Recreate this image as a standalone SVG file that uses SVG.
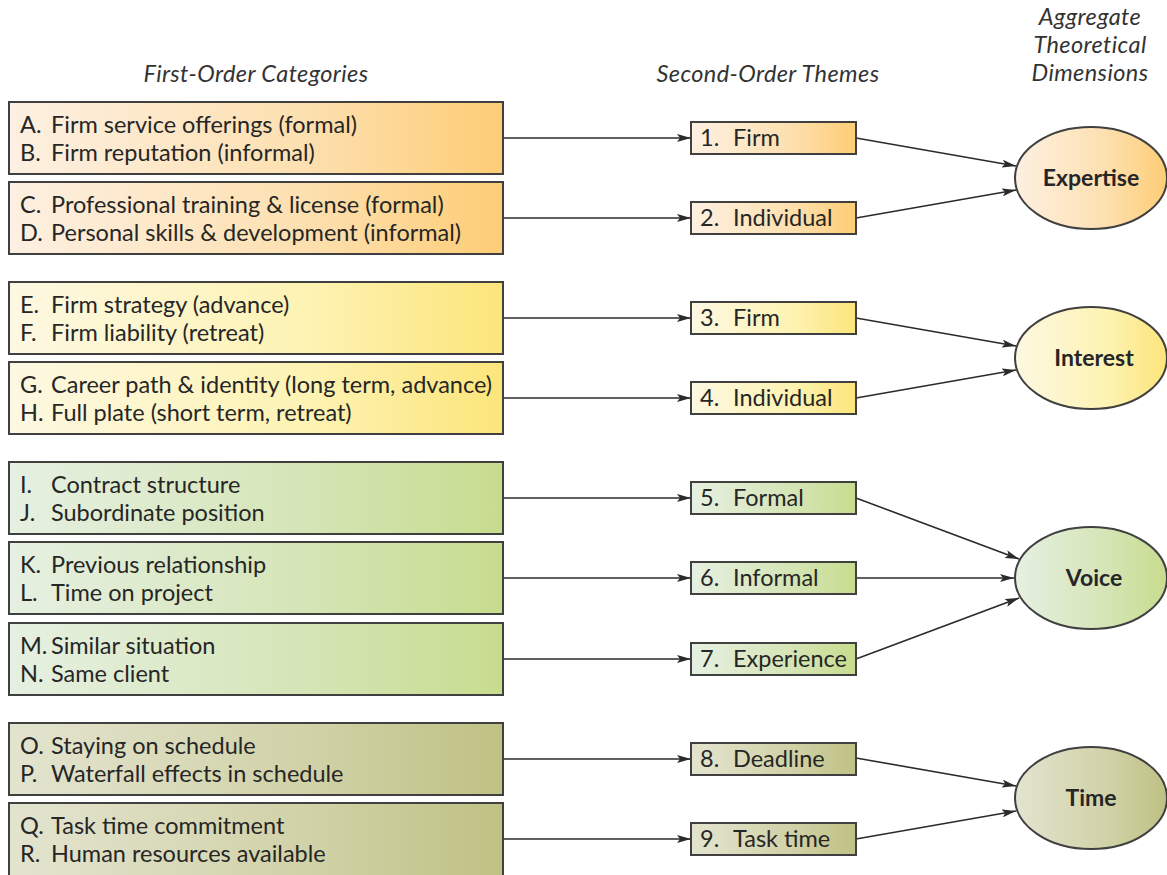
<svg xmlns="http://www.w3.org/2000/svg" width="1167" height="875" viewBox="0 0 1167 875">
  <defs>
    <linearGradient id="gOrange" x1="0" y1="0" x2="1" y2="0">
      <stop offset="0" stop-color="#fdf0e2"/>
      <stop offset="0.6" stop-color="#fde0b0"/>
      <stop offset="1" stop-color="#fdcd76"/>
    </linearGradient>
    <linearGradient id="gYellow" x1="0" y1="0" x2="1" y2="0">
      <stop offset="0" stop-color="#fdf8e2"/>
      <stop offset="0.6" stop-color="#fdf3b4"/>
      <stop offset="1" stop-color="#fce57a"/>
    </linearGradient>
    <linearGradient id="gGreen" x1="0" y1="0" x2="1" y2="0">
      <stop offset="0" stop-color="#e6f0e2"/>
      <stop offset="0.6" stop-color="#d5e5b6"/>
      <stop offset="1" stop-color="#c8dc8e"/>
    </linearGradient>
    <linearGradient id="gOlive" x1="0" y1="0" x2="1" y2="0">
      <stop offset="0" stop-color="#e3e4cf"/>
      <stop offset="0.6" stop-color="#d1d2a8"/>
      <stop offset="1" stop-color="#bfc184"/>
    </linearGradient>
    <marker id="arrow" viewBox="0 0 14 8" refX="14" refY="4" markerWidth="14" markerHeight="8" markerUnits="userSpaceOnUse" orient="auto">
      <path d="M0,0 L14,4 L0,8 L3,4 Z" fill="#2b2b2b"/>
    </marker>
    <style>
      .box { stroke: #404040; stroke-width: 2; }
      .txt { font-family: Lato, "Open Sans", sans-serif; font-size: 23.5px; fill: #262626; }
      .head { font-family: Lato, "Open Sans", sans-serif; font-size: 23.5px; font-style: italic; fill: #333; text-anchor: middle; letter-spacing: 0.4px; }
      .dim { font-family: Lato, "Open Sans", sans-serif; font-size: 23px; font-weight: bold; fill: #262626; text-anchor: middle; }
      .link { stroke: #2b2b2b; stroke-width: 1.6; fill: none; marker-end: url(#arrow); }
      .o { fill: url(#gOrange); }
      .y { fill: url(#gYellow); }
      .g { fill: url(#gGreen); }
      .v { fill: url(#gOlive); }
    </style>
  </defs>

  <rect width="1167" height="875" fill="#ffffff"/>

  <!-- column headings -->
  <g id="headings">
    <text class="head" x="256" y="82">First-Order Categories</text>
    <text class="head" x="768" y="82">Second-Order Themes</text>
    <text class="head" x="1090" y="25">Aggregate</text>
    <text class="head" x="1090" y="53">Theoretical</text>
    <text class="head" x="1090" y="81">Dimensions</text>
  </g>

  <!-- connectors -->
  <g id="connectors">
    <line class="link" x1="503" y1="138" x2="691" y2="138"/>
    <line class="link" x1="503" y1="218" x2="691" y2="218"/>
    <line class="link" x1="503" y1="318" x2="691" y2="318"/>
    <line class="link" x1="503" y1="398" x2="691" y2="398"/>
    <line class="link" x1="503" y1="498" x2="691" y2="498"/>
    <line class="link" x1="503" y1="578" x2="691" y2="578"/>
    <line class="link" x1="503" y1="659" x2="691" y2="659"/>
    <line class="link" x1="503" y1="759" x2="691" y2="759"/>
    <line class="link" x1="503" y1="839" x2="691" y2="839"/>

    <line class="link" x1="856" y1="138" x2="1016" y2="166"/>
    <line class="link" x1="856" y1="218" x2="1016" y2="190"/>
    <line class="link" x1="856" y1="318" x2="1016" y2="346"/>
    <line class="link" x1="856" y1="398" x2="1016" y2="370"/>
    <line class="link" x1="856" y1="498" x2="1019" y2="559"/>
    <line class="link" x1="856" y1="578" x2="1014" y2="578"/>
    <line class="link" x1="856" y1="659" x2="1019" y2="598"/>
    <line class="link" x1="856" y1="758" x2="1016" y2="786"/>
    <line class="link" x1="856" y1="839" x2="1016" y2="811"/>
  </g>

  <!-- first-order categories -->
  <g id="cat-AB">
    <rect class="box o" x="9" y="102" width="494" height="72"/>
    <text class="txt" y="133"><tspan x="20">A.</tspan><tspan x="51">Firm service offerings (formal)</tspan></text>
    <text class="txt" y="161"><tspan x="20">B.</tspan><tspan x="51">Firm reputation (informal)</tspan></text>
  </g>
  <g id="cat-CD">
    <rect class="box o" x="9" y="182" width="494" height="72"/>
    <text class="txt" y="213"><tspan x="20">C.</tspan><tspan x="51">Professional training &amp; license (formal)</tspan></text>
    <text class="txt" y="241"><tspan x="20">D.</tspan><tspan x="51">Personal skills &amp; development (informal)</tspan></text>
  </g>
  <g id="cat-EF">
    <rect class="box y" x="9" y="282" width="494" height="72"/>
    <text class="txt" y="313"><tspan x="20">E.</tspan><tspan x="51">Firm strategy (advance)</tspan></text>
    <text class="txt" y="341"><tspan x="20">F.</tspan><tspan x="51">Firm liability (retreat)</tspan></text>
  </g>
  <g id="cat-GH">
    <rect class="box y" x="9" y="362" width="494" height="72"/>
    <text class="txt" y="393"><tspan x="20">G.</tspan><tspan x="51">Career path &amp; identity (long term, advance)</tspan></text>
    <text class="txt" y="421"><tspan x="20">H.</tspan><tspan x="51">Full plate (short term, retreat)</tspan></text>
  </g>
  <g id="cat-IJ">
    <rect class="box g" x="9" y="462" width="494" height="72"/>
    <text class="txt" y="493"><tspan x="20">I.</tspan><tspan x="51">Contract structure</tspan></text>
    <text class="txt" y="521"><tspan x="20">J.</tspan><tspan x="51">Subordinate position</tspan></text>
  </g>
  <g id="cat-KL">
    <rect class="box g" x="9" y="542" width="494" height="72"/>
    <text class="txt" y="573"><tspan x="20">K.</tspan><tspan x="51">Previous relationship</tspan></text>
    <text class="txt" y="601"><tspan x="20">L.</tspan><tspan x="51">Time on project</tspan></text>
  </g>
  <g id="cat-MN">
    <rect class="box g" x="9" y="623" width="494" height="72"/>
    <text class="txt" y="654"><tspan x="20">M.</tspan><tspan x="51">Similar situation</tspan></text>
    <text class="txt" y="682"><tspan x="20">N.</tspan><tspan x="51">Same client</tspan></text>
  </g>
  <g id="cat-OP">
    <rect class="box v" x="9" y="723" width="494" height="72"/>
    <text class="txt" y="754"><tspan x="20">O.</tspan><tspan x="51">Staying on schedule</tspan></text>
    <text class="txt" y="782"><tspan x="20">P.</tspan><tspan x="51">Waterfall effects in schedule</tspan></text>
  </g>
  <g id="cat-QR">
    <rect class="box v" x="9" y="803" width="494" height="80"/>
    <text class="txt" y="834"><tspan x="20">Q.</tspan><tspan x="51">Task time commitment</tspan></text>
    <text class="txt" y="862"><tspan x="20">R.</tspan><tspan x="51">Human resources available</tspan></text>
  </g>

  <!-- second-order themes -->
  <g id="theme-1">
    <rect class="box o" x="691" y="122" width="165" height="32"/>
    <text class="txt" y="146"><tspan x="700">1.</tspan><tspan x="733">Firm</tspan></text>
  </g>
  <g id="theme-2">
    <rect class="box o" x="691" y="202" width="165" height="32"/>
    <text class="txt" y="226"><tspan x="700">2.</tspan><tspan x="733">Individual</tspan></text>
  </g>
  <g id="theme-3">
    <rect class="box y" x="691" y="302" width="165" height="32"/>
    <text class="txt" y="326"><tspan x="700">3.</tspan><tspan x="733">Firm</tspan></text>
  </g>
  <g id="theme-4">
    <rect class="box y" x="691" y="382" width="165" height="32"/>
    <text class="txt" y="406"><tspan x="700">4.</tspan><tspan x="733">Individual</tspan></text>
  </g>
  <g id="theme-5">
    <rect class="box g" x="691" y="482" width="165" height="32"/>
    <text class="txt" y="506"><tspan x="700">5.</tspan><tspan x="733">Formal</tspan></text>
  </g>
  <g id="theme-6">
    <rect class="box g" x="691" y="562" width="165" height="32"/>
    <text class="txt" y="586"><tspan x="700">6.</tspan><tspan x="733">Informal</tspan></text>
  </g>
  <g id="theme-7">
    <rect class="box g" x="691" y="643" width="165" height="32"/>
    <text class="txt" y="667"><tspan x="700">7.</tspan><tspan x="733">Experience</tspan></text>
  </g>
  <g id="theme-8">
    <rect class="box v" x="691" y="743" width="165" height="32"/>
    <text class="txt" y="767"><tspan x="700">8.</tspan><tspan x="733">Deadline</tspan></text>
  </g>
  <g id="theme-9">
    <rect class="box v" x="691" y="823" width="165" height="32"/>
    <text class="txt" y="847"><tspan x="700">9.</tspan><tspan x="733">Task time</tspan></text>
  </g>

  <!-- aggregate dimensions -->
  <g id="dim-expertise">
    <ellipse class="box o" cx="1091" cy="178" rx="76" ry="51"/>
    <text class="dim" x="1091" y="186">Expertise</text>
  </g>
  <g id="dim-interest">
    <ellipse class="box y" cx="1091" cy="358" rx="76" ry="51"/>
    <text class="dim" x="1094" y="366">Interest</text>
  </g>
  <g id="dim-voice">
    <ellipse class="box g" cx="1091" cy="578" rx="76" ry="51"/>
    <text class="dim" x="1094" y="586">Voice</text>
  </g>
  <g id="dim-time">
    <ellipse class="box v" cx="1091" cy="798" rx="76" ry="51"/>
    <text class="dim" x="1091" y="806">Time</text>
  </g>
</svg>
